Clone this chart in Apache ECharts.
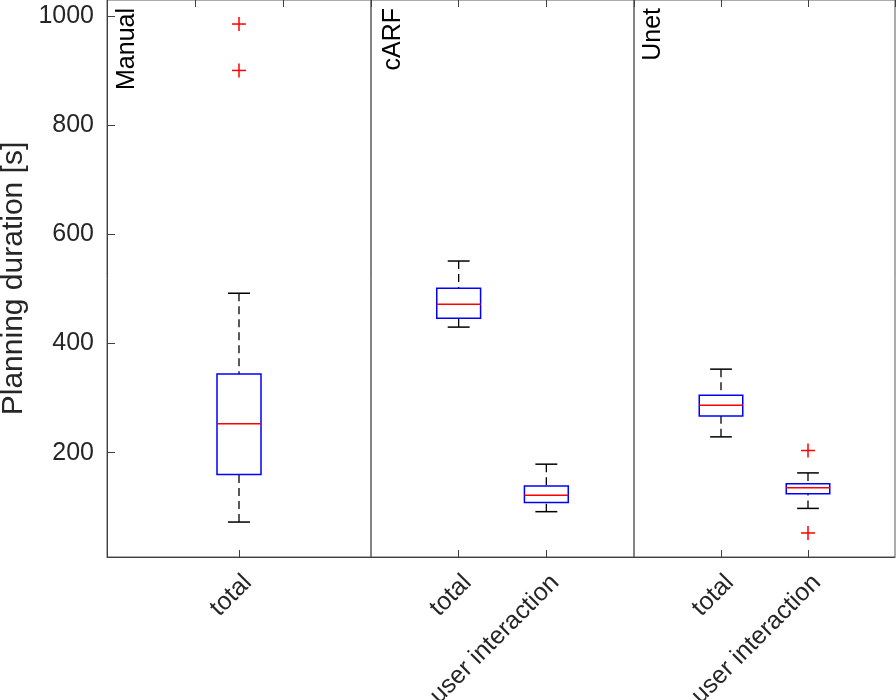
<!DOCTYPE html>
<html>
<head>
<meta charset="utf-8">
<script src="https://cdn.jsdelivr.net/npm/echarts@6/dist/echarts.min.js"></script>
<style>
html,body{margin:0;padding:0;background:#fff;}
#chart{width:896px;height:700px;}
</style>
</head>
<body>
<div id="chart"></div>
<script>
// ---- data ----
const panelNames = ['Manual', 'cARF', 'Unet'];
const manualCats = ['total'];
const carfCats = ['total', 'user interaction'];
const unetCats = ['total', 'user interaction'];
// [min, Q1, median, Q3, max]
const manualTotal = [73, 160, 253, 344, 492];
const manualTotalOutliers = [985, 900];
const carfTotal = [430, 446, 472, 501, 551];
const carfUser = [92, 109, 122, 139, 179];
const unetTotal = [229, 267, 287, 305, 353];
const unetUser = [98, 125, 136, 143, 163];
const unetUserOutliers = [204, 53];
const yTicks = [200, 400, 600, 800, 1000];

// ---- styles ----
const FONT = "'Liberation Sans', Arial, Helvetica, sans-serif";
const TXT = '#262626';
const BORDER = '#5a5a5a';

const chart = echarts.init(document.getElementById('chart'));

function renderBox(params, api) {
  const x = api.value(0);
  const lo = api.coord([x, api.value(1)]);
  const q1 = api.coord([x, api.value(2)]);
  const md = api.coord([x, api.value(3)]);
  const q3 = api.coord([x, api.value(4)]);
  const hi = api.coord([x, api.value(5)]);
  const band = api.size([1, 0])[0];
  const hw = band * 0.25, cw = band * 0.125;
  const cx = md[0];
  const wStyle = {stroke: '#000', lineWidth: 1.3, lineDash: [8, 5]};
  const cStyle = {stroke: '#000', lineWidth: 1.5};
  return {
    type: 'group',
    children: [
      {type: 'line', shape: {x1: cx, y1: hi[1], x2: cx, y2: q3[1]}, style: wStyle},
      {type: 'line', shape: {x1: cx, y1: lo[1], x2: cx, y2: q1[1]}, style: wStyle},
      {type: 'line', shape: {x1: cx - cw, y1: hi[1], x2: cx + cw, y2: hi[1]}, style: cStyle},
      {type: 'line', shape: {x1: cx - cw, y1: lo[1], x2: cx + cw, y2: lo[1]}, style: cStyle},
      {type: 'rect', shape: {x: cx - hw, y: q3[1], width: 2 * hw, height: q1[1] - q3[1]},
        style: {fill: 'none', stroke: '#0000ff', lineWidth: 1.5}},
      {type: 'line', shape: {x1: cx - hw, y1: md[1], x2: cx + hw, y2: md[1]},
        style: {stroke: '#ff0000', lineWidth: 1.5}}
    ]
  };
}

function renderPlus(params, api) {
  const p = api.coord([api.value(0), api.value(1)]);
  const s = 7;
  const st = {stroke: '#ff0000', lineWidth: 1.5};
  return {
    type: 'group',
    children: [
      {type: 'line', shape: {x1: p[0] - s, y1: p[1], x2: p[0] + s, y2: p[1]}, style: st},
      {type: 'line', shape: {x1: p[0], y1: p[1] - s, x2: p[0], y2: p[1] + s}, style: st}
    ]
  };
}

const grids = [
  {left: 107, right: 525, top: 0, bottom: 143},
  {left: 371, right: 262, top: 0, bottom: 143},
  {left: 634, right: 1, top: 0, bottom: 143}
].map(g => Object.assign(g, {show: true, borderColor: BORDER, borderWidth: 1,
  containLabel: false, outerBoundsMode: 'none'}));

function bottomAxis(gi, cats, gap) {
  return {
    type: 'category', gridIndex: gi, position: 'bottom',
    data: ['', ...cats, ''], boundaryGap: gap,
    axisLine: {show: true, lineStyle: {color: '#404040', width: 1}},
    axisTick: {show: true, inside: true, length: 7, alignWithLabel: true,
      interval: (i, v) => v !== '', lineStyle: {color: '#404040'}},
    axisLabel: {show: true, interval: (i, v) => v !== '', rotate: 45,
      align: 'right', verticalAlign: 'top', margin: 13,
      fontFamily: FONT, fontSize: 25, color: TXT},
    splitLine: {show: false}
  };
}
function topAxis(gi, cats, gap) {
  return {
    type: 'category', gridIndex: gi, position: 'top',
    data: ['', ...cats, ''], boundaryGap: gap,
    axisLine: {show: false},
    axisTick: {show: true, inside: true, length: 7, interval: 0, lineStyle: {color: '#404040'}},
    axisLabel: {show: false},
    splitLine: {show: false}
  };
}

const xAxes = [
  bottomAxis(0, manualCats, true), topAxis(0, manualCats, true),
  bottomAxis(1, carfCats, false), topAxis(1, carfCats, false),
  bottomAxis(2, unetCats, false), topAxis(2, unetCats, false)
];

function yAxis(gi, main) {
  return {
    type: 'value', gridIndex: gi, min: 9, max: 1029, splitNumber: 5,
    axisLine: {show: main, lineStyle: {color: '#404040'}},
    axisTick: {show: main, inside: true, length: 8, lineStyle: {color: '#404040'}},
    axisLabel: {show: main, margin: 13, fontFamily: FONT, fontSize: 25, color: TXT,
      showMinLabel: false, showMaxLabel: false,
      formatter: v => (yTicks.indexOf(v) >= 0 ? String(v) : '')},
    splitLine: {show: false},
    name: main ? 'Planning duration [s]' : '',
    nameLocation: 'middle', nameGap: 78, nameMoveOverlap: false,
    nameTextStyle: {fontFamily: FONT, fontSize: 30, color: TXT}
  };
}

const boxSeries = (xi, yi, items) => ({
  type: 'custom', xAxisIndex: xi, yAxisIndex: yi, renderItem: renderBox,
  encode: {x: 0, y: [1, 2, 3, 4, 5]}, data: items, silent: true, clip: false
});
const outlierSeries = (xi, yi, items) => ({
  type: 'custom', xAxisIndex: xi, yAxisIndex: yi, renderItem: renderPlus,
  encode: {x: 0, y: 1}, data: items, silent: true, clip: false
});

const panelText = (x, name) => ({
  type: 'text', x: x, y: 8, rotation: Math.PI / 2,
  style: {text: name, fontFamily: FONT, fontSize: 25, fill: '#000', align: 'right', verticalAlign: 'top'}
});

const option = {
  animation: false,
  backgroundColor: '#fff',
  grid: grids,
  xAxis: xAxes,
  yAxis: [yAxis(0, true), yAxis(1, false), yAxis(2, false)],
  graphic: [
    panelText(115, panelNames[0]),
    panelText(381, panelNames[1]),
    panelText(641, panelNames[2])
  ],
  series: [
    boxSeries(0, 0, [[1, ...manualTotal]]),
    outlierSeries(0, 0, manualTotalOutliers.map(v => [1, v])),
    boxSeries(2, 1, [[1, ...carfTotal], [2, ...carfUser]]),
    boxSeries(4, 2, [[1, ...unetTotal], [2, ...unetUser]]),
    outlierSeries(4, 2, unetUserOutliers.map(v => [2, v]))
  ]
};
chart.setOption(option);
</script>
</body>
</html>
